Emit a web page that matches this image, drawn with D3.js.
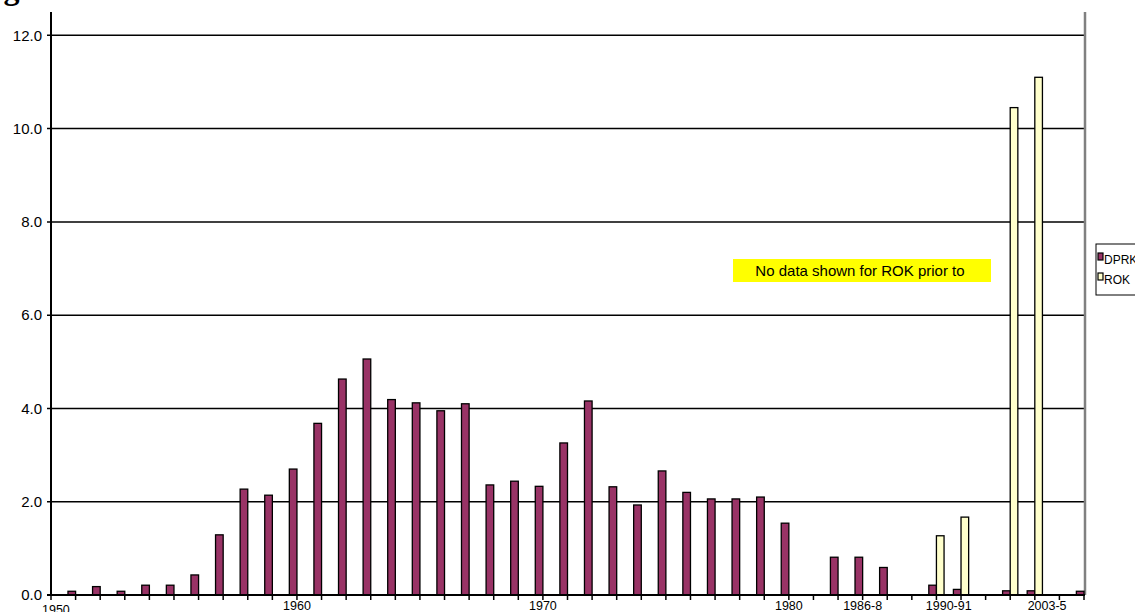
<!DOCTYPE html>
<html>
<head>
<meta charset="utf-8">
<script src="https://cdn.jsdelivr.net/npm/d3@7/dist/d3.min.js"></script>
<style>
  html, body { margin: 0; padding: 0; background: #fff; overflow: hidden; }
  svg { display: block; }
  text { font-family: Arial, "Liberation Sans", sans-serif; fill: #000; }
</style>
</head>
<body>
<script>
// Category slots along the x axis (blank slots separate the later year groups)
const categories = [
  "1950","1951","1952","1953","1954","1955","1956","1957","1958","1959",
  "1960","1961","1962","1963","1964","1965","1966","1967","1968","1969",
  "1970","1971","1972","1973","1974","1975","1976","1977","1978","1979",
  "1980","", "1986","1987","1988","", "1990","1991","", "2002","2003","2004","2005"
];

// DPRK series (null = no bar)
const dprkValues = [
  null, 0.08, 0.18, 0.08, 0.21, 0.21, 0.43, 1.29, 2.27, 2.14,
  2.70, 3.68, 4.63, 5.06, 4.19, 4.12, 3.95, 4.10, 2.36, 2.44,
  2.33, 3.26, 4.16, 2.32, 1.93, 2.66, 2.20, 2.06, 2.06, 2.10,
  1.54, null, 0.81, 0.81, 0.59, null, 0.21, 0.12, null, 0.09, 0.09, null, 0.08
];

// ROK series (shown only for the later years)
const rokValues = [
  null, null, null, null, null, null, null, null, null, null,
  null, null, null, null, null, null, null, null, null, null,
  null, null, null, null, null, null, null, null, null, null,
  null, null, null, null, null, null, 1.27, 1.67, null, 10.45, 11.10, null, null
];

// Axis labels and the category slots each one spans
const axisLabels = ["1950", "1960", "1970", "1980", "1986-8", "1990-91", "2003-5"];
const axisLabelFrom = [0, 10, 20, 30, 32, 36, 39];
const axisLabelTo   = [0, 10, 20, 30, 34, 37, 42];

const yTicks = [0, 2, 4, 6, 8, 10, 12];
const seriesNames = ["DPRK", "ROK"];
const seriesColors = ["#993366", "#FFFFCC"];

const W = 1135, H = 612;
const plot = { left: 51, right: 1084, top: 12, bottom: 595 };

const svg = d3.select("body").append("svg")
  .attr("width", W).attr("height", H);

const x = d3.scalePoint()
  .domain(d3.range(categories.length))
  .range([plot.left, plot.right]);
const y = d3.scaleLinear()
  .domain([0, 12.5])
  .range([plot.bottom, plot.top]);
const bw = x.step() * 0.31;

// Title (sits above the visible area; only descenders show)
svg.append("text")
  .attr("x", -25).attr("y", -1)
  .style("font-family", "'Liberation Serif', 'Times New Roman', serif")
  .style("font-weight", "bold")
  .style("font-size", "32px")
  .text("Figure");

// Horizontal gridlines with their left tick marks
svg.append("g").selectAll("line")
  .data(yTicks.filter(t => t > 0))
  .join("line")
  .attr("x1", plot.left - 4).attr("x2", plot.right)
  .attr("y1", d => y(d)).attr("y2", d => y(d))
  .attr("stroke", "#000").attr("stroke-width", 1.5);

// Y tick labels
svg.append("g").selectAll("text")
  .data(yTicks)
  .join("text")
  .attr("x", 42)
  .attr("y", d => y(d))
  .attr("dy", "0.35em")
  .attr("text-anchor", "end")
  .style("font-size", "15px")
  .text(d => d3.format(".1f")(d));

// Right-hand plot border
svg.append("line")
  .attr("x1", plot.right + 1).attr("x2", plot.right + 1)
  .attr("y1", plot.top).attr("y2", plot.bottom)
  .attr("stroke", "#808080").attr("stroke-width", 2.5);

// Bars
const barG = svg.append("g");
barG.selectAll("rect.dprk")
  .data(dprkValues.map((v, i) => ({ i, v })).filter(d => d.v != null))
  .join("rect")
  .attr("class", "dprk")
  .attr("x", d => x(d.i) - bw)
  .attr("y", d => y(d.v))
  .attr("width", bw)
  .attr("height", d => y(0) - y(d.v))
  .attr("fill", seriesColors[0])
  .attr("stroke", "#000").attr("stroke-width", 1.3);

barG.selectAll("rect.rok")
  .data(rokValues.map((v, i) => ({ i, v })).filter(d => d.v != null))
  .join("rect")
  .attr("class", "rok")
  .attr("x", d => x(d.i))
  .attr("y", d => y(d.v))
  .attr("width", bw)
  .attr("height", d => y(0) - y(d.v))
  .attr("fill", seriesColors[1])
  .attr("stroke", "#000").attr("stroke-width", 1.3);

// Y axis line
svg.append("line")
  .attr("x1", plot.left).attr("x2", plot.left)
  .attr("y1", plot.top).attr("y2", plot.bottom + 1)
  .attr("stroke", "#000").attr("stroke-width", 2);

// X axis line and a tick at every category slot
svg.append("line")
  .attr("x1", plot.left - 4).attr("x2", plot.right + 1)
  .attr("y1", y(0)).attr("y2", y(0))
  .attr("stroke", "#000").attr("stroke-width", 2);
svg.append("g").selectAll("line")
  .data(d3.range(categories.length))
  .join("line")
  .attr("x1", d => x(d)).attr("x2", d => x(d))
  .attr("y1", y(0)).attr("y2", y(0) + 5)
  .attr("stroke", "#000").attr("stroke-width", 1.5);

// X labels, centred on the slots they span
const xl = svg.append("g").selectAll("text")
  .data(axisLabels.map((t, k) => ({ t, k })))
  .join("text")
  .attr("y", d => d.k === 0 ? 614 : 610)
  .attr("text-anchor", "middle")
  .style("font-size", "12.5px")
  .text(d => d.t);
xl.attr("x", function (d) {
  const c = (x(axisLabelFrom[d.k]) + x(axisLabelTo[d.k])) / 2;
  const half = this.getComputedTextLength() / 2;
  return Math.max(c, 42 + half);
});

// Note box
const note = svg.append("g");
note.append("rect")
  .attr("x", 733).attr("y", 259).attr("width", 258).attr("height", 23)
  .attr("fill", "#FFFF00");
note.append("text")
  .attr("x", 860).attr("y", 276)
  .attr("text-anchor", "middle")
  .style("font-size", "15px")
  .text("No data shown for ROK prior to");

// Legend
const leg = svg.append("g");
leg.append("rect")
  .attr("x", 1096).attr("y", 244).attr("width", 60).attr("height", 51)
  .attr("fill", "#fff").attr("stroke", "#000").attr("stroke-width", 1);
seriesNames.forEach((name, k) => {
  const by = 264 + k * 20;
  leg.append("rect")
    .attr("x", 1098).attr("y", by - 11).attr("width", 5).attr("height", 7)
    .attr("fill", seriesColors[k]).attr("stroke", "#000").attr("stroke-width", 1.2);
  leg.append("text")
    .attr("x", 1104).attr("y", by)
    .style("font-size", "12px")
    .text(name);
});
</script>
</body>
</html>
